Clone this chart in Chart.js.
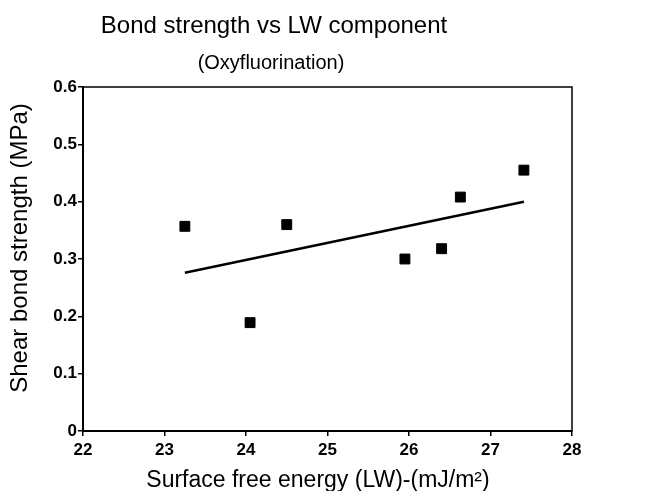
<!DOCTYPE html>
<html>
<head>
<meta charset="utf-8">
<title>Bond strength vs LW component</title>
<script src="https://cdn.jsdelivr.net/npm/chart.js@4/dist/chart.umd.min.js"></script>
<style>
  html, body { margin: 0; padding: 0; background: #fff; }
  canvas { display: block; }
</style>
</head>
<body>
<canvas id="bondChart" width="646" height="491"></canvas>
<script>
// values
const surfaceEnergy = [23.25, 24.05, 24.5, 25.95, 26.4, 26.63, 27.41];
const bondStrength = [0.357, 0.189, 0.360, 0.300, 0.318, 0.408, 0.455];
const trendEnergy = [23.25, 27.41];
const trendStrength = [0.276, 0.400];
const xRange = [22, 28];
const yRange = [0, 0.6];

const FONT = '"Liberation Sans", Arial, Helvetica, sans-serif';

// box round the plot + the titles (the scan has them a bit left of centre)
const framePlugin = {
  id: 'frame',
  afterDraw(chart) {
    const { ctx, chartArea } = chart;
    ctx.save();
    ctx.strokeStyle = '#000';
    ctx.lineWidth = 1.5;
    ctx.strokeRect(chartArea.left, chartArea.top, chartArea.right - chartArea.left, chartArea.bottom - chartArea.top);

    ctx.fillStyle = '#000';
    ctx.textAlign = 'center';
    ctx.textBaseline = 'alphabetic';
    ctx.font = '24px ' + FONT;
    ctx.fillText('Bond strength vs LW component', 274, 33);
    ctx.font = '20px ' + FONT;
    ctx.fillText('(Oxyfluorination)', 271, 69);

    ctx.font = '23px ' + FONT;
    ctx.fillText('Surface free energy (LW)-(mJ/m²)', 318, 487);

    ctx.translate(27, 248);
    ctx.rotate(-Math.PI / 2);
    ctx.font = '24px ' + FONT;
    ctx.fillText('Shear bond strength (MPa)', 0, 0);
    ctx.restore();
  }
};

const points = surfaceEnergy.map((x, i) => ({ x: x, y: bondStrength[i] }));
const trend = trendEnergy.map((x, i) => ({ x: x, y: trendStrength[i] }));

new Chart(document.getElementById('bondChart'), {
  type: 'scatter',
  data: {
    datasets: [{
      label: 'Bond strength',
      data: points,
      pointStyle: 'rect',
      pointRadius: 7,
      backgroundColor: '#000',
      borderColor: '#000'
    }, {
      type: 'line',
      label: 'Trend',
      data: trend,
      borderColor: '#000',
      borderWidth: 2.5,
      pointRadius: 0,
      fill: false
    }]
  },
  options: {
    responsive: false,
    animation: false,
    layout: { padding: { top: 87, right: 74, left: 0, bottom: 0 } },
    plugins: {
      legend: { display: false },
      tooltip: { enabled: false }
    },
    scales: {
      x: {
        type: 'linear',
        min: xRange[0],
        max: xRange[1],
        afterFit(scale) { scale.height = 60; },
        ticks: { stepSize: 1, color: '#000', padding: 4, font: { family: FONT, size: 17, weight: 'bold' } },
        grid: { drawOnChartArea: false, drawTicks: true, tickLength: 5, color: '#000', lineWidth: 1.5 },
        border: { display: true, color: '#000', width: 2 }
      },
      y: {
        min: yRange[0],
        max: yRange[1],
        afterFit(scale) { scale.width = 83; },
        ticks: {
          stepSize: 0.1,
          color: '#000',
          padding: 1,
          font: { family: FONT, size: 17, weight: 'bold' },
          callback: v => v === 0 ? '0' : v.toFixed(1)
        },
        grid: { drawOnChartArea: false, drawTicks: true, tickLength: 5, color: '#000', lineWidth: 1.5 },
        border: { display: true, color: '#000', width: 2 }
      }
    }
  },
  plugins: [framePlugin]
});
</script>
</body>
</html>
